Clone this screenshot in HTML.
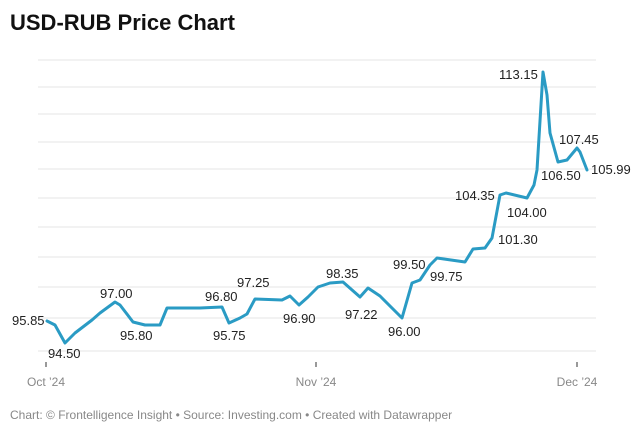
<!DOCTYPE html>
<html><head><style>
body{margin:0;width:640px;height:433px;background:#fff;overflow:hidden;font-family:"Liberation Sans",sans-serif;}
</style></head><body>
<svg width="640" height="433" xmlns="http://www.w3.org/2000/svg" font-family="Liberation Sans, sans-serif">
<text x="10" y="30" font-size="22" font-weight="bold" fill="#111">USD-RUB Price Chart</text>
<g stroke="#e6e6e6" stroke-width="1">
<line x1="38" x2="596" y1="60" y2="60"/><line x1="38" x2="596" y1="87" y2="87"/><line x1="38" x2="596" y1="114" y2="114"/><line x1="38" x2="596" y1="142" y2="142"/><line x1="38" x2="596" y1="169" y2="169"/><line x1="38" x2="596" y1="198" y2="198"/><line x1="38" x2="596" y1="227" y2="227"/><line x1="38" x2="596" y1="257" y2="257"/><line x1="38" x2="596" y1="287" y2="287"/><line x1="38" x2="596" y1="318" y2="318"/><line x1="38" x2="596" y1="351" y2="351"/>
</g>
<g stroke="#333" stroke-width="1"><line x1="46" x2="46" y1="362" y2="367"/><line x1="316" x2="316" y1="362" y2="367"/><line x1="577" x2="577" y1="362" y2="367"/></g>
<g font-size="12" fill="#888" text-anchor="middle"><text x="46" y="386">Oct ’24</text><text x="316" y="386">Nov ’24</text><text x="577" y="386">Dec ’24</text></g>
<path fill="none" stroke="#2a9bc4" stroke-width="3" stroke-linejoin="round" stroke-linecap="round" d="M47,321 L55,325 L65,343 L75,333 L92,320 L100,313 L115,302 L120,305 L133,322 L145,325 L160,325 L167,308 L200,308 L222,307 L229,323 L240,318 L247,314 L255,299 L282,300 L290,296 L299,305 L308,297 L318,287 L330,283 L343,282 L360,297 L368,288 L380,296 L402,318 L412,283 L420,280 L430,265 L437,258 L465,262 L473,249 L485,248 L492,238 L500,195 L506,193 L527,198 L534,185 L537,170 L543,72 L547,95 L550,133 L558,162 L567,160 L577,148 L580,152 L587,170"/>
<g font-size="13" fill="#222">
<text x="12" y="325">95.85</text><text x="48" y="358">94.50</text><text x="100" y="298">97.00</text><text x="120" y="340">95.80</text><text x="205" y="301">96.80</text><text x="213" y="340">95.75</text><text x="237" y="287">97.25</text><text x="283" y="323">96.90</text><text x="326" y="278">98.35</text><text x="345" y="319">97.22</text><text x="388" y="336">96.00</text><text x="393" y="269">99.50</text><text x="430" y="281">99.75</text><text x="498" y="244">101.30</text><text x="455" y="200">104.35</text><text x="507" y="217">104.00</text><text x="499" y="79">113.15</text><text x="559" y="144">107.45</text><text x="541" y="180">106.50</text><text x="591" y="174">105.99</text>
</g>
<text x="10" y="419" font-size="12" fill="#888">Chart: © Frontelligence Insight • Source: Investing.com • Created with Datawrapper</text>
</svg>
</body></html>
